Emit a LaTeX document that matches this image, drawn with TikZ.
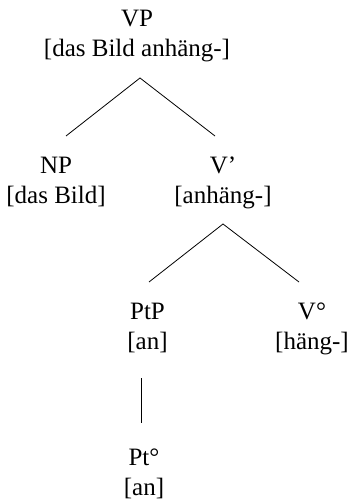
\documentclass[tikz,border=0pt]{standalone}
\usepackage{fontspec}
\setmainfont{Liberation Serif}
\usetikzlibrary{calc}
\tikzset{
  cat/.style={anchor=base, align=center, inner sep=0pt, font=\fontsize{25}{30}\selectfont},
  branch/.style={draw=black, line width=0.8pt}
}
\begin{document}
\begin{tikzpicture}[x=1pt, y=-1pt]
\useasboundingbox (0,0) rectangle (349,500);
\node[cat] (vp) at (137,57) {VP\\{}[das Bild anhäng-]};
\node[cat] (np) at (56,203) {NP\\{}[das Bild]};
\node[cat] (vbar) at (223,203) {V’\\{}[anhäng-]};
\node[cat] (ptp) at (147.5,349) {PtP\\{}[an]};
\node[cat] (vdeg) at (312,349) {V°\\{}[häng-]};
\node[cat] (ptdeg) at (144,495) {Pt°\\{}[an]};
\draw[branch] ($(np.base)+(10,-67)$) -- ($(vp.base)+(3,21)$) -- ($(vbar.base)+(-8,-67)$);
\draw[branch] ($(ptp.base)+(1.5,-67)$) -- ($(vbar.base)+(0,21)$) -- ($(vdeg.base)+(-13,-67)$);
\draw[branch] ($(ptp.base)+(-6.5,29)$) -- ($(ptdeg.base)+(-3,-72)$);
\end{tikzpicture}
\end{document}
